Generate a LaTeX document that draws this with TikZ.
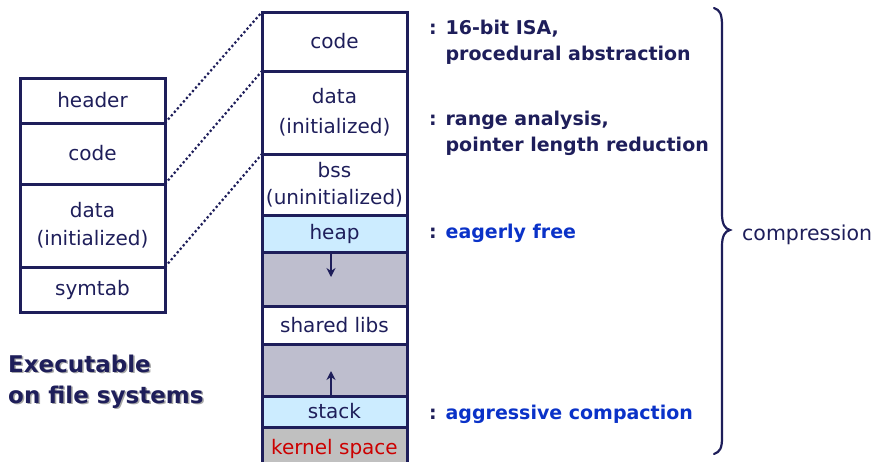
\documentclass[tikz,border=0pt]{standalone}
\usepackage{fontspec}
\setmainfont{DejaVu Sans}
\usetikzlibrary{arrows.meta}
\definecolor{navy}{RGB}{30,30,90}
\definecolor{heapblue}{RGB}{204,236,255}
\definecolor{freegray}{RGB}{190,190,206}
\definecolor{kernelgray}{RGB}{192,192,192}
\definecolor{kernelred}{RGB}{204,0,0}
\definecolor{noteblue}{RGB}{10,50,200}
\tikzset{
  seg/.style={draw=navy, line width=3pt, inner sep=0pt, outer sep=0pt,
    text=navy, align=center, minimum width=145pt,
    font=\fontsize{20}{28}\selectfont},
  note/.style={anchor=base west, inner sep=0pt, align=left, text=navy,
    font=\fontsize{19}{26}\selectfont\bfseries},
  link/.style={draw=navy, line width=2.2pt, line cap=butt,
    dash pattern=on 2.2pt off 2.4pt},
  growarrow/.style={draw=navy, line width=2.6pt, -{Stealth[length=9pt,width=9pt]}}
}
\begin{document}
\begin{tikzpicture}[x=1pt,y=-1pt]
\useasboundingbox (0,0) rectangle (879,461);

% executable file layout
\node[seg, minimum height=45pt] (f-header) at (92.5,100.5) {header};
\node[seg, minimum height=61pt] (f-code) at (92.5,153.5) {code};
\node[seg, minimum height=83pt] (f-data) at (92.5,225.5) {data\\(initialized)};
\node[seg, minimum height=45pt] (f-symtab) at (92.5,289.5) {symtab};

% process memory layout
\node[seg, minimum height=59pt] (m-code) at (334.5,41.5) {code};
\node[seg, minimum height=83pt, font=\fontsize{20}{30}\selectfont] (m-data) at (334.5,112.5) {data\\(initialized)};
\node[seg, minimum height=61pt, font=\fontsize{20}{27}\selectfont] (m-bss) at (334.5,184.5) {bss\\(uninitialized)};
\node[seg, minimum height=37pt, fill=heapblue] (m-heap) at (334.5,233.5) {heap};
\node[seg, minimum height=54pt, fill=freegray] (m-free1) at (334.5,279) {};
\node[seg, minimum height=38pt] (m-libs) at (334.5,325) {shared libs};
\node[seg, minimum height=52pt, fill=freegray] (m-free2) at (334.5,370) {};
\node[seg, minimum height=44pt, fill=kernelgray, text=kernelred, anchor=north] (m-kernel) at (334.5,427) {kernel space};
\node[seg, minimum height=31pt, fill=heapblue] (m-stack) at (334.5,411.5) {stack};

% growth directions
\coordinate (heap-end) at (331,277);
\coordinate (stack-end) at (331,371);
\draw[growarrow] (m-heap.south -| heap-end) -- (heap-end);
\draw[growarrow] (m-stack.north -| stack-end) -- (stack-end);

% mapping of file sections onto memory
\draw[link] (f-header.south east) -- (m-code.north west);
\draw[link] (f-code.south east) -- (m-data.north west);
\draw[link] (f-data.south east) -- (m-bss.north west);

% caption with its drop shadow
\node[anchor=base west, inner sep=0pt, align=left, text=black!35,
  font=\fontsize{23}{31}\selectfont\bfseries] (caption-shadow) at (9.5,404.5) {Executable\\on file systems};
\node[anchor=base west, inner sep=0pt, align=left, text=navy,
  font=\fontsize{23}{31}\selectfont\bfseries] (caption) at (8,403) {Executable\\on file systems};

% compression techniques
\node[note] (n-code) at (429,60) {: 16-bit ISA,\\\hphantom{: }procedural abstraction};
\node[note] (n-data) at (429,151) {: range analysis,\\\hphantom{: }pointer length reduction};
\node[note] (n-heap) at (429,238) {: \textcolor{noteblue}{eagerly free}};
\node[note] (n-stack) at (429,419) {: \textcolor{noteblue}{aggressive compaction}};

% brace
\draw[navy, line width=2.2pt, line cap=round]
  (714,8) .. controls (720,10) and (722,14) .. (722,26) -- (722,214)
  .. controls (722,224) and (725,229) .. (730,230)
  .. controls (725,231) and (722,236) .. (722,246) -- (722,438)
  .. controls (722,448) and (720,452) .. (714,454);
\node[anchor=base west, inner sep=0pt, text=navy, font=\fontsize{20.5}{25}\selectfont]
  (compression) at (742,240) {compression};
\end{tikzpicture}
\end{document}
